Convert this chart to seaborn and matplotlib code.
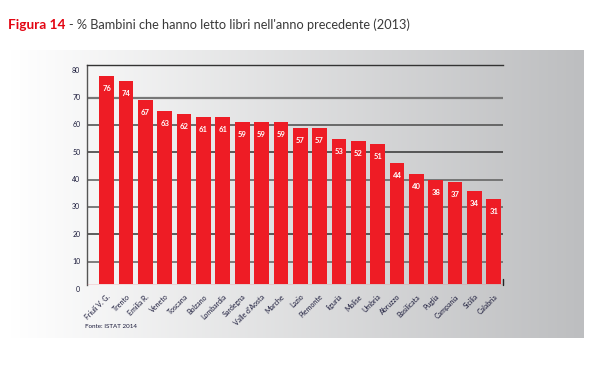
import numpy as np
import pandas as pd
import matplotlib
matplotlib.use("Agg")
import matplotlib.pyplot as plt
import seaborn as sns

regions = ["Friuli V. G.", "Trento", "Emilia R.", "Veneto", "Toscana", "Bolzano",
           "Lombardia", "Sardegna", "Valle d'Aosta", "Marche", "Lazio", "Piemonte",
           "liguria", "Molise", "Umbria", "Abruzzo", "Basilicata", "Puglia",
           "Campania", "Sicilia", "Calabria"]
values = [76, 74, 67, 63, 62, 61, 61, 59, 59, 59, 57, 57, 53, 52, 51, 44, 40, 38, 37, 34, 31]
ytick_labels = [0, 10, 20, 30, 40, 50, 60, 70, 80]

sns.set_style("white")
plt.rcParams['font.family'] = ['Lato', 'DejaVu Sans']

W, H = 607, 387
fig = plt.figure(figsize=(W / 100, H / 100), dpi=100)
fig.patch.set_facecolor("white")

# gradient panel
bg = fig.add_axes([10 / W, 1 - 338 / H, (584 - 10) / W, (338 - 50) / H], zorder=0)
grad = np.linspace(0, 1, 256)
c0 = np.array([1.0, 1.0, 1.0])
c1 = np.array([189, 190, 192]) / 255
img = (c0[None, :] * (1 - grad[:, None]) + c1[None, :] * grad[:, None])[None, :, :]
bg.imshow(img, aspect="auto", extent=[0, 1, 0, 1])
bg.set_axis_off()

ax = fig.add_axes([87 / W, 1 - 284.7 / H, 416 / W, 220 / H], zorder=2)
ax.set_facecolor("none")
df = pd.DataFrame({"region": regions, "value": values})
sns.barplot(data=df, x="region", y="value", color="#EE1C25", saturation=1,
            width=0.76, ax=ax)
for p in ax.patches:
    p.set_zorder(3)
    p.set_edgecolor("none")
ax.set_xlim(-1.02, 20.48)
ax.set_ylim(-0.4, 80)

OFF = 2  # tick labels in the original sit 2 units above the bar scale
grid_styles = {10: ("#6a6a6a", 1.2), 20: ("#333333", 1.1), 30: ("#666666", 1.2),
               40: ("#666666", 1.2), 50: ("#333333", 1.1), 60: ("#555555", 1.2),
               70: ("#777777", 1.6)}
for v, (c, lw) in grid_styles.items():
    ax.axhline(v - OFF, color=c, lw=lw, zorder=1)

ax.set_yticks([])
for v in ytick_labels:
    ax.text(-0.016, v - OFF, str(v), transform=ax.get_yaxis_transform(),
            ha="right", va="center", fontsize=5, color="#1a1a3a", clip_on=False)

for s in ["right", "bottom"]:
    ax.spines[s].set_visible(False)
ax.spines["top"].set_color("#333333")
ax.spines["top"].set_linewidth(1.0)
ax.spines["left"].set_color("#555555")
ax.spines["left"].set_linewidth(1.0)
ax.plot([1, 1], [0, 0.025], transform=ax.transAxes, color="#222222", lw=1, clip_on=False)
ax.axhline(-0.4, color="#E86A70", lw=1, zorder=4)

for i, v in enumerate(values):
    ax.annotate(str(v), (i, v), xytext=(0, -9), textcoords="offset points",
                ha="center", va="center", fontsize=5.5, color="white",
                fontweight="bold", zorder=5)

ax.set_xlabel("")
ax.set_ylabel("")
ax.set_xticks(range(len(regions)))
ax.set_xticklabels(regions, rotation=45, ha="right", rotation_mode="anchor",
                   fontsize=5, color="#1a1a3a")
ax.tick_params(axis="x", length=0, pad=6)

# title
t1 = fig.text(8 / W, 1 - 29 / H, "Figura 14", fontsize=9.8, fontweight="bold",
              color="#E30613", va="baseline", ha="left")
fig.canvas.draw()
bb = t1.get_window_extent()
fig.text((bb.x1 + 4) / W, 1 - 29 / H, "- % Bambini che hanno letto libri nell'anno precedente (2013)",
         fontsize=9.2, color="#3a3a3a", va="baseline", ha="left")

fig.text(85 / W, 1 - 327 / H, "Fonte: ISTAT 2014", fontsize=4.5, color="#1a1a3a",
         va="center", ha="left")

fig.savefig("out.png", dpi=100)
